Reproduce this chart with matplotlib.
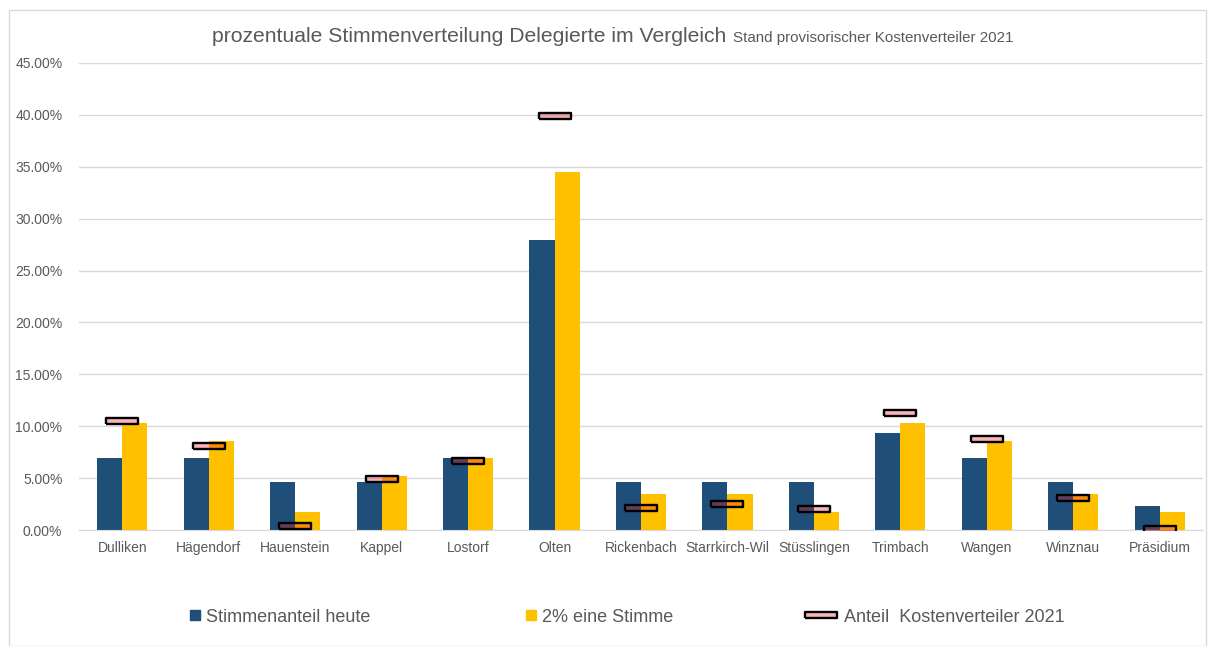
import numpy as np
import matplotlib.pyplot as plt
from matplotlib.lines import Line2D
from matplotlib.patches import Rectangle
from matplotlib.ticker import PercentFormatter

plt.rcParams['font.family'] = ['Liberation Sans', 'DejaVu Sans']

gemeinden = ['Dulliken', 'Hägendorf', 'Hauenstein', 'Kappel', 'Lostorf', 'Olten',
             'Rickenbach', 'Starrkirch-Wil', 'Stüsslingen', 'Trimbach', 'Wangen',
             'Winznau', 'Präsidium']
stimmen_heute = [6.98, 6.98, 4.65, 4.65, 6.98, 27.91, 4.65, 4.65, 4.65, 9.30, 6.98, 4.65, 2.33]
zwei_prozent = [10.34, 8.62, 1.72, 5.17, 6.90, 34.48, 3.45, 3.45, 1.72, 10.34, 8.62, 3.45, 1.72]
kosten_2021 = [10.50, 8.12, 0.39, 4.91, 6.65, 39.88, 2.12, 2.50, 2.02, 11.27, 8.77, 3.08, 0.05]

blue = '#1F4E79'
yellow = '#FFC000'
grey = '#595959'

W, H = 1208, 646
fig = plt.figure(figsize=(W / 100, H / 100), dpi=100)
ax = fig.add_axes([79 / W, (H - 530) / H, (1203 - 79) / W, (530 - 63) / H])

x = np.arange(len(gemeinden))
bw = 0.29
b1 = ax.bar(x - bw / 2, stimmen_heute, bw, color=blue, zorder=2)
b2 = ax.bar(x + bw / 2, zwei_prozent, bw, color=yellow, zorder=2)

# flat rectangle marker for the cost share
rect = [(-1, -0.2), (1, -0.2), (1, 0.2), (-1, 0.2), (-1, -0.2)]
k, = ax.plot(x, kosten_2021, linestyle='none', marker=rect, markersize=23,
             markerfacecolor=(0.94, 0.1, 0.15, 0.33), markeredgecolor='black',
             markeredgewidth=1.7, zorder=3)

ax.set_xlim(-0.5, len(gemeinden) - 0.5)
ax.set_ylim(0, 45)
ax.set_yticks(np.arange(0, 46, 5))
ax.yaxis.set_major_formatter(PercentFormatter(decimals=2))
ax.set_xticks(x)
ax.set_xticklabels(gemeinden)
ax.tick_params(axis='both', length=0, labelsize=10, labelcolor=grey)
ax.tick_params(axis='y', pad=12)
ax.tick_params(axis='x', pad=8)
ax.grid(axis='y', color='#D9D9D9', linewidth=1, zorder=0)
for s in ['top', 'right', 'left']:
    ax.spines[s].set_visible(False)
ax.spines['bottom'].set_color('#D9D9D9')

fig.text(212 / W, (H - 37) / H, 'prozentuale Stimmenverteilung Delegierte im Vergleich',
         fontsize=15.2, color=grey, ha='left', va='center')
fig.text(733 / W, (H - 38) / H, 'Stand provisorischer Kostenverteiler 2021',
         fontsize=10.9, color=grey, ha='left', va='center')

# legend entries placed separately
ly = (H - 617) / H
h1 = Line2D([], [], linestyle='none', marker='s', markersize=7, color=blue)
h2 = Line2D([], [], linestyle='none', marker='s', markersize=7, color=yellow)
entries = [(h1, 'Stimmenanteil heute', 190, 0.6),
           (h2, '2% eine Stimme', 526, 0.6),
           (k, 'Anteil  Kostenverteiler 2021', 804, 1.9)]
for h, lab, xpos, hl in entries:
    fig.legend(handles=[h], labels=[lab], loc='center left', bbox_to_anchor=(xpos / W, ly),
               frameon=False, fontsize=13, handlelength=hl, handletextpad=0.3,
               borderpad=0, borderaxespad=0, numpoints=1, labelcolor=grey)

fig.patches.append(Rectangle((9 / W, 0), (W - 11) / W, (H - 10) / H, transform=fig.transFigure,
                             fill=False, edgecolor='#D9D9D9', linewidth=1))

fig.savefig('out.png', dpi=100)
